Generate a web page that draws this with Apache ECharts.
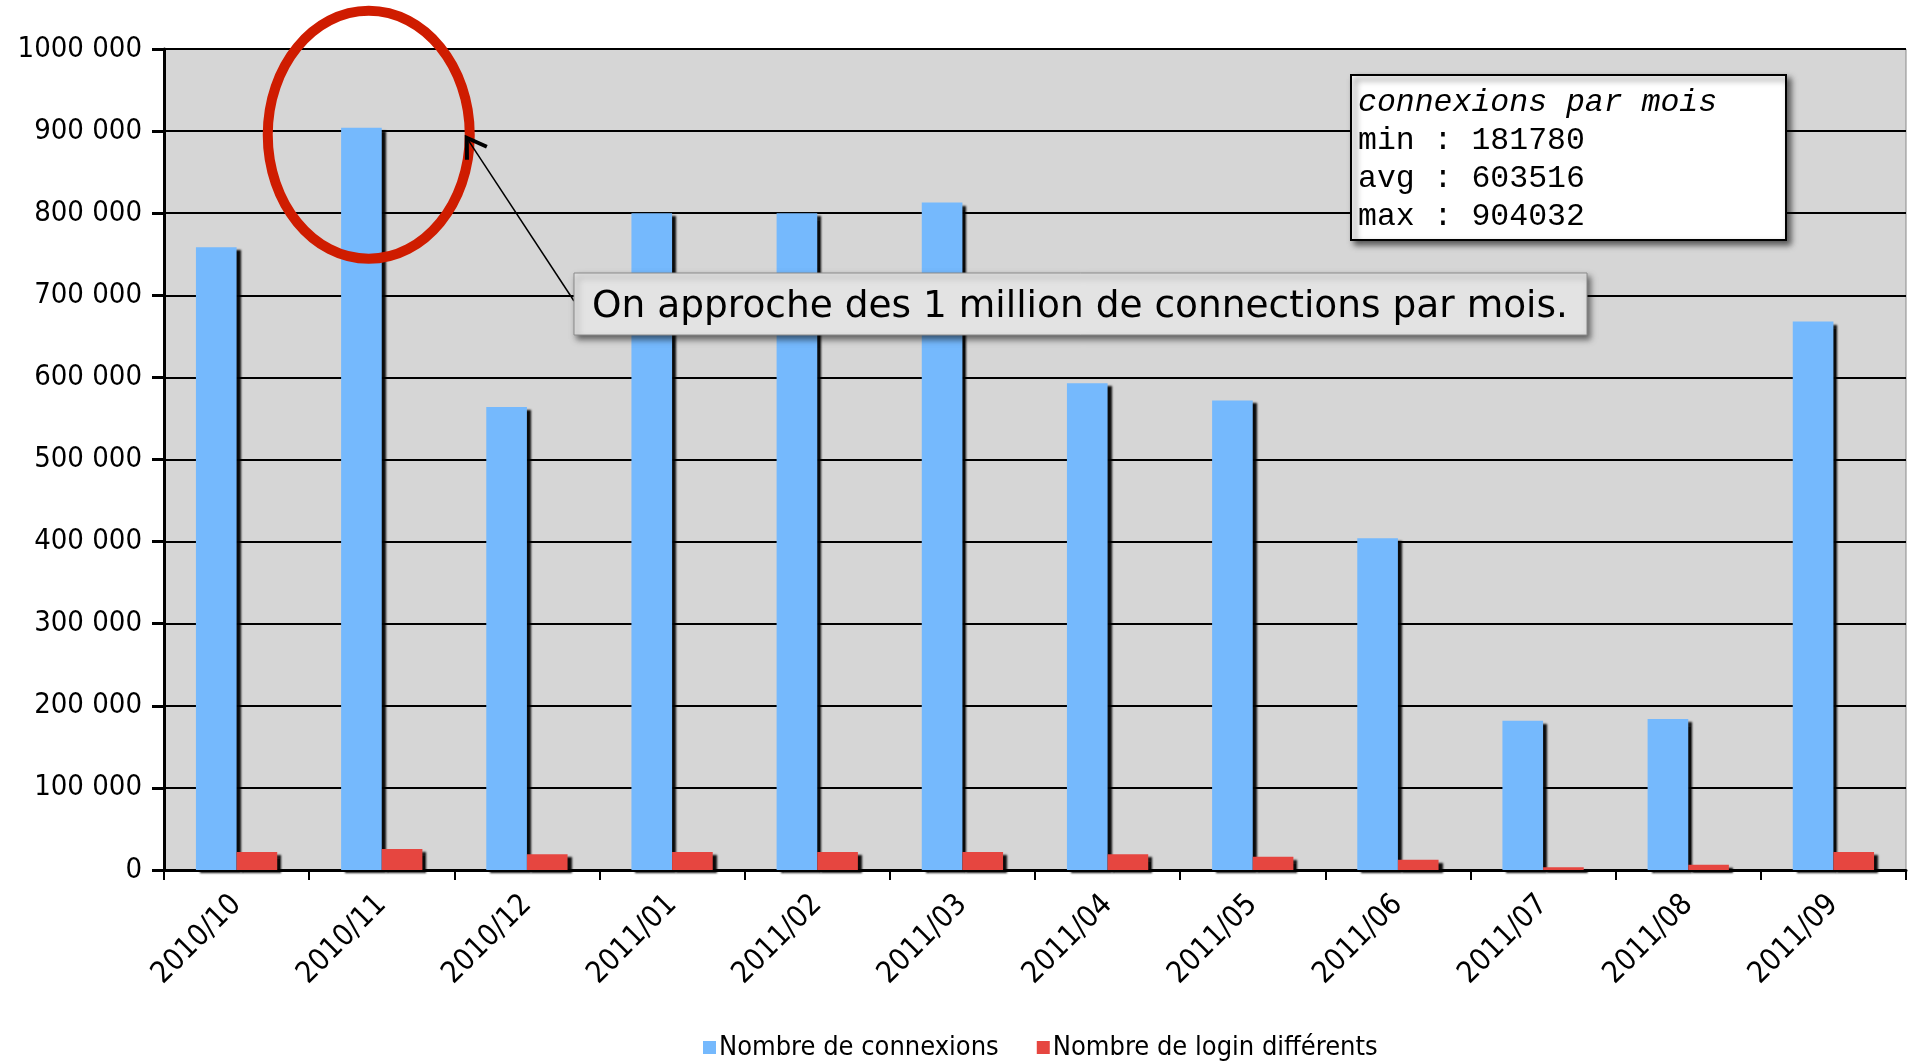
<!DOCTYPE html>
<html>
<head>
<meta charset="utf-8">
<script src="https://cdn.jsdelivr.net/npm/echarts@6/dist/echarts.min.js"></script>
<style>
html,body{margin:0;padding:0;background:#fff;}
#c{width:1910px;height:1062px;}
</style>
</head>
<body>
<div id="c"></div>
<script>
var categories = ['2010/10','2010/11','2010/12','2011/01','2011/02','2011/03','2011/04','2011/05','2011/06','2011/07','2011/08','2011/09'];
var connexions = [758500, 904032, 564000, 800000, 800000, 813000, 593000, 572000, 404000, 181780, 183880, 668000];
var logins = [22000, 25600, 19100, 21900, 21900, 21900, 19100, 16200, 12600, 3200, 6500, 21900];
var yTicks = {min: 0, max: 1000000, interval: 100000};
var statsLines = ['connexions par mois', 'min : 181780', 'avg : 603516', 'max : 904032'];
var calloutText = 'On approche des 1 million de connections par mois.';
var seriesNames = ['Nombre de connexions', 'Nombre de login différents'];

var FONT = '"DejaVu Sans Condensed", "DejaVu Sans", sans-serif';
var chart = echarts.init(document.getElementById('c'));

function fmt(v){
  if (v === 0) return '0';
  var k = Math.floor(v/1000), r = v % 1000;
  return k + ' ' + ('00' + r).slice(-3);
}

var shadow = {shadowColor:'rgba(0,0,0,0.95)', shadowBlur:2, shadowOffsetX:4, shadowOffsetY:3};

chart.setOption({
  animation: false,
  backgroundColor: '#ffffff',
  grid: {left:164, right:4, top:49, bottom:192, show:true, backgroundColor:'#d6d6d6', borderColor:'#8a8a8a', borderWidth:1},
  legend: {
    left: 698, top: 1029, itemWidth: 13, itemHeight: 13, itemGap: 38,
    icon: 'rect',
    textStyle: {fontFamily: FONT, fontSize: 27, color:'#000', padding:[0,0,0,-2]},
    data: seriesNames
  },
  xAxis: {
    type: 'category', data: categories,
    axisLine: {lineStyle:{color:'#000', width:3}},
    axisTick: {show:true, length:10, lineStyle:{color:'#000', width:2}},
    axisLabel: {rotate:45, margin:30, fontFamily:FONT, fontSize:30, color:'#000'}
  },
  yAxis: {
    type: 'value', min: yTicks.min, max: yTicks.max, interval: yTicks.interval,
    axisLine: {show:true, lineStyle:{color:'#000', width:3}},
    axisTick: {show:true, length:12, lineStyle:{color:'#000', width:3}},
    axisLabel: {margin:22, fontFamily:FONT, fontSize:29, color:'#000', formatter: fmt},
    splitLine: {show:true, lineStyle:{color:'#000', width:2}}
  },
  series: [
    {name: seriesNames[0], type:'bar', data: connexions, barGap:'0%', barCategoryGap:'44%',
     itemStyle: Object.assign({color:'#75b9fd'}, shadow)},
    {name: seriesNames[1], type:'bar', data: logins, barGap:'0%', barCategoryGap:'44%',
     itemStyle: Object.assign({color:'#e64640'}, shadow)}
  ]
});

// annotations anchored to the max bar
var p = chart.convertToPixel({gridIndex:0}, [categories[1], connexions[1]]);
var cx = p[0] - 13, cy = p[1] + 7;
var rx = 101, ry = 124;
var tip = [cx + rx - 3, cy + 3];
var start = [574, 301];
var dx = start[0]-tip[0], dy = start[1]-tip[1], L = Math.sqrt(dx*dx+dy*dy);
var ux = dx/L, uy = dy/L, al = 22, ang = Math.PI/5.5;
function rot(x,y,a){return [x*Math.cos(a)-y*Math.sin(a), x*Math.sin(a)+y*Math.cos(a)];}
var a1 = rot(ux,uy,ang), a2 = rot(ux,uy,-ang);

var statsEls = statsLines.map(function(t,i){
  return {type:'text', left:1358, top:87 + i*38, z:20,
    style:{text:t, fontFamily:'"Liberation Mono", "DejaVu Sans Mono", monospace', fontSize:31.5, fill:'#000', fontStyle: i===0?'italic':'normal'}};
});

chart.setOption({
  graphic: [
    {type:'ellipse', shape:{cx:cx, cy:cy, rx:rx, ry:ry}, z:10,
     style:{fill:'none', stroke:'#cf1c00', lineWidth:10}},
    {type:'line', shape:{x1:start[0], y1:start[1], x2:tip[0], y2:tip[1]}, z:11,
     style:{stroke:'#000', lineWidth:1.5}},
    {type:'polyline', shape:{points:[[tip[0]+a1[0]*al, tip[1]+a1[1]*al], tip, [tip[0]+a2[0]*al, tip[1]+a2[1]*al]]}, z:11,
     style:{stroke:'#000', lineWidth:4, fill:'none', lineJoin:'miter'}},
    {type:'rect', shape:{x:574, y:273, width:1013, height:62}, z:12,
     style:{fill:'#e3e3e3', stroke:'#8a8a8a', lineWidth:1, shadowColor:'rgba(0,0,0,0.55)', shadowBlur:6, shadowOffsetX:3, shadowOffsetY:4}},
    {type:'text', left:592, top:288, z:13,
     style:{text:calloutText, fontFamily:'"DejaVu Sans", sans-serif', fontSize:37.5, fill:'#000'}},
    {type:'rect', shape:{x:1351, y:75, width:435, height:165}, z:18,
     style:{fill:'#fff', stroke:'#000', lineWidth:2, shadowColor:'rgba(0,0,0,0.6)', shadowBlur:6, shadowOffsetX:4, shadowOffsetY:4}}
  ].concat(statsEls)
});
</script>
</body>
</html>
